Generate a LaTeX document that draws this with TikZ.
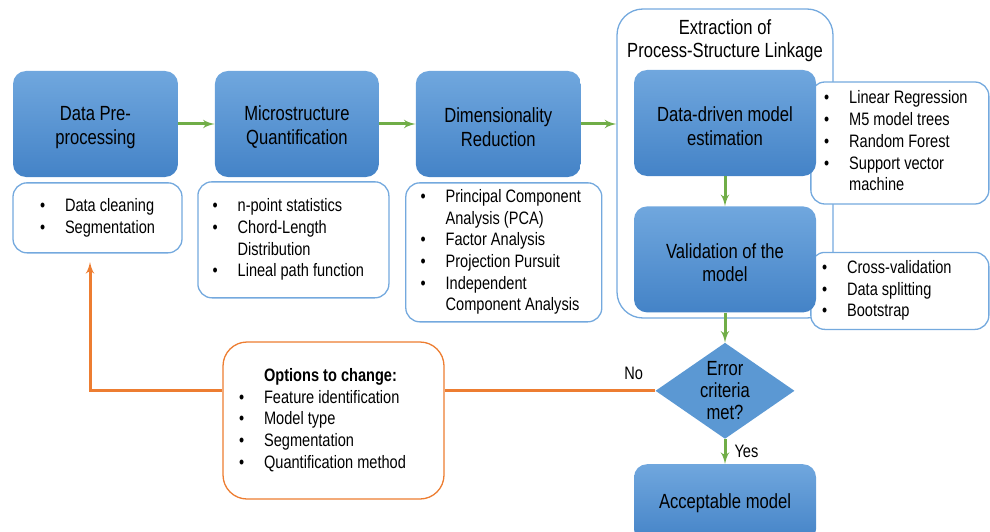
\documentclass[tikz,border=0pt]{standalone}
\usepackage{fontspec}
\setmainfont[FakeStretch=0.81]{Liberation Sans}
\usepackage{tikz}
\usetikzlibrary{arrows}
\usetikzlibrary{positioning}
\usetikzlibrary{shapes.geometric}
\definecolor{boxtop}{HTML}{70A7DE}
\definecolor{boxbot}{HTML}{4483C7}
\definecolor{boxmid}{HTML}{5B98D3}
\definecolor{listline}{HTML}{74A9DE}
\definecolor{flowgreen}{HTML}{70AD47}
\definecolor{fborange}{HTML}{ED7D31}
\newcommand{\ttl}{\fontsize{20.5}{23.5}\selectfont}
\newcommand{\sml}{\fontsize{18}{21.7}\selectfont}
\newcommand{\topstrut}{\rule{0pt}{21pt}}
\newcommand{\padright}[1]{\rule{#1}{0pt}}
\pgfdeclarelayer{back}
\pgfdeclarelayer{mid}
\pgfsetlayers{back,mid,main}
\tikzstyle{every node}+=[inner sep=0pt]
\tikzstyle{block} = [rectangle, rounded corners=13pt, top color=boxtop, bottom color=boxbot, font=\ttl, align=center, minimum width=165pt, minimum height=106pt]
\tikzstyle{list} = [rectangle, draw=listline, line width=1.3pt, fill=white, rounded corners=14pt, font=\sml]
\tikzstyle{decision} = [diamond, fill=boxmid, minimum width=139pt, minimum height=96pt]
\tikzstyle{line} = [draw, flowgreen, line width=3pt, -latex']
\tikzstyle{feedback} = [draw, fborange, line width=3pt]
\tikzstyle{tag} = [font=\sml, text=black]

\begin{document}
\begin{tikzpicture}[x=1pt, y=-1pt, node distance=36.5pt]
            \useasboundingbox (0,0) rectangle (990,532);
            \clip (0,0) rectangle (990,532);
            % Place nodes
            \node [block] (pre) at (95.5,124) {\topstrut Data Pre-\\processing};
            \node [block, right=of pre, minimum width=164pt] (mic) {\topstrut Microstructure\\Quantification};
            \node [block, right=of mic] (dim) {\topstrut Dimensionality\\Reduction};
            \node [block, minimum width=182pt] (dd) at (725,123) {\topstrut Data-driven model\\estimation};
            \node [block, below=30pt of dd, minimum width=182pt] (val) {\topstrut Validation of the\\model};
            \node [decision, below=30pt of val, label={[font=\fontsize{20.5}{22}\selectfont, align=center]center:{Error\\criteria\\met?}}] (err) {};
            \node [block, below=25pt of err, minimum width=182pt, minimum height=78pt] (ok) {Acceptable model};
            \begin{pgfonlayer}{back}
            \node [rectangle, draw=listline, line width=1.3pt, rounded corners=26pt, minimum width=216pt, minimum height=309pt] (ext) at (725,163.5) {};
            \node [font=\ttl, align=center, below=11pt of ext.north] (ext-title) {Extraction of\\Process-Structure Linkage};
            \end{pgfonlayer}
            % Method lists
            \begin{pgfonlayer}{mid}
            \node [list, below=5pt of pre, xshift=2pt, minimum width=169pt, minimum height=70pt] (pre-list) {\begin{tabular}{@{}p{25pt}@{}l@{}}
                \textbullet & Data cleaning\\
                \textbullet & Segmentation
            \end{tabular}};
            \node [list, below=4pt of mic, xshift=-3.5pt, minimum width=191pt, minimum height=116pt] (mic-list) {\begin{tabular}{@{}p{25pt}@{}l@{}}
                \textbullet & n-point statistics\\
                \textbullet & Chord-Length\\
                & Distribution\\
                \textbullet & Lineal path function
            \end{tabular}\padright{10pt}};
            \node [list, below=5pt of dim, xshift=5.5pt, minimum width=196pt, minimum height=139pt] (dim-list) {\begin{tabular}{@{}p{25pt}@{}l@{}}
                \textbullet & Principal Component\\
                & Analysis (PCA)\\
                \textbullet & Factor Analysis\\
                \textbullet & Projection Pursuit\\
                \textbullet & Independent\\
                & Component Analysis
            \end{tabular}\padright{6pt}};
            \node [list, right=-6pt of dd, yshift=-20pt, minimum width=178pt, minimum height=122pt] (dd-list) {\begin{tabular}{@{}p{25pt}@{}l@{}}
                \textbullet & Linear Regression\\
                \textbullet & M5 model trees\\
                \textbullet & Random Forest\\
                \textbullet & Support vector\\
                & machine
            \end{tabular}\padright{8pt}};
            \node [list, right=-6pt of val, yshift=-31.5pt, minimum width=178pt, minimum height=77pt] (val-list) {\begin{tabular}{@{}p{25pt}@{}l@{}}
                \textbullet & Cross-validation\\
                \textbullet & Data splitting\\
                \textbullet & Bootstrap
            \end{tabular}\padright{26pt}};
            \end{pgfonlayer}
            \node [list, draw=fborange, rounded corners=24pt, minimum width=221pt, minimum height=157pt] (opt) at (333.5,420.5) {\begin{tabular}{@{}p{25pt}@{}l@{}}
                \multicolumn{2}{c}{\hspace{16pt}\textbf{Options to change:}}\\
                \textbullet & Feature identification\\
                \textbullet & Model type\\
                \textbullet & Segmentation\\
                \textbullet & Quantification method
            \end{tabular}\padright{22pt}};
            \coordinate (up) at (90,262);
            % Draw edges
            \path [line] (pre) -- (mic);
            \path [line] (mic) -- (dim);
            \path [line] (dim.east) -- (ext.west |- dim.east);
            \path [line] (dd) -- (val);
            \path [line] (val) -- (err);
            \path [line] (err) -- node [tag, right=8pt] (yes) {Yes} (ok);
            \path [feedback] (err.west) -- (err.west -| opt.east);
            \path [feedback, -latex'] (err.west -| opt.west) -| (up);
            \node [tag, above left=11pt and 12pt of err.west] (no) {No};
\end{tikzpicture}
\end{document}
